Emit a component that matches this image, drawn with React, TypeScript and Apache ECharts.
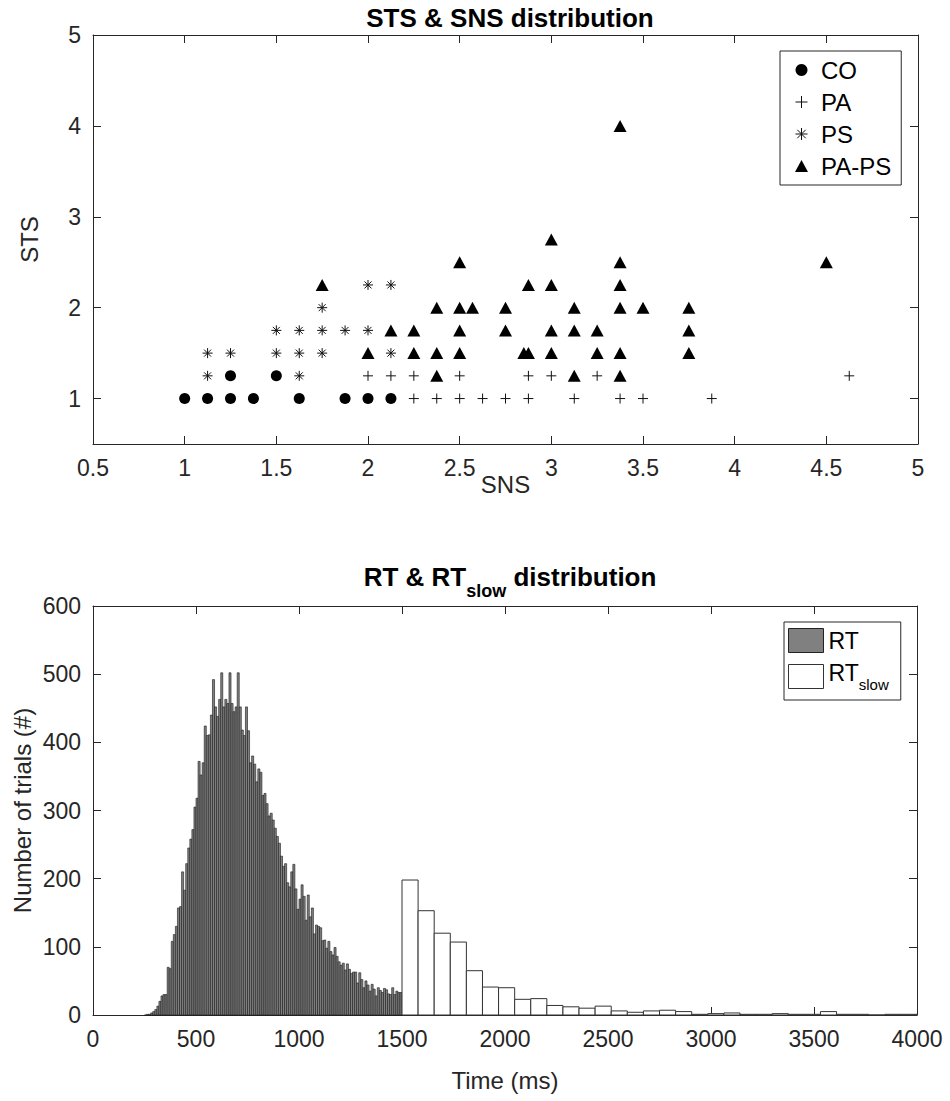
import React, { useEffect, useRef } from "react";
import * as echarts from "echarts";

const FONT = '"Liberation Sans", Arial, Helvetica, sans-serif';
const AXIS_COLOR = "#262626";

// ---------- Top panel: STS vs SNS scatter ----------
const snsRange = [0.5, 5];
const snsInterval = 0.5;
const stsRange = [0.5, 5];
const stsTicks = [1, 2, 3, 4, 5];

const coData = [
  [1, 1], [1.125, 1], [1.25, 1], [1.375, 1], [1.625, 1], [1.875, 1], [2, 1], [2.125, 1],
  [1.25, 1.25], [1.5, 1.25],
];
const paData = [
  [2.25, 1], [2.375, 1], [2.5, 1], [2.625, 1], [2.75, 1], [2.875, 1], [3.125, 1], [3.375, 1], [3.5, 1], [3.875, 1],
  [2, 1.25], [2.125, 1.25], [2.25, 1.25], [2.5, 1.25], [2.875, 1.25], [3, 1.25], [3.25, 1.25], [4.625, 1.25],
];
const psData = [
  [1.125, 1.25], [1.625, 1.25],
  [1.125, 1.5], [1.25, 1.5], [1.5, 1.5], [1.625, 1.5], [1.75, 1.5], [2.125, 1.5],
  [1.5, 1.75], [1.625, 1.75], [1.75, 1.75], [1.875, 1.75], [2, 1.75],
  [1.75, 2],
  [2, 2.25], [2.125, 2.25],
];
const papsData = [
  [2.375, 1.25], [3.125, 1.25], [3.375, 1.25],
  [2, 1.5], [2.25, 1.5], [2.375, 1.5], [2.5, 1.5], [2.85, 1.5], [2.875, 1.5], [3, 1.5], [3.25, 1.5], [3.375, 1.5], [3.75, 1.5],
  [2.125, 1.75], [2.25, 1.75], [2.5, 1.75], [2.75, 1.75], [3, 1.75], [3.125, 1.75], [3.25, 1.75], [3.75, 1.75],
  [2.375, 2], [2.5, 2], [2.57, 2], [2.75, 2], [3.125, 2], [3.375, 2], [3.5, 2], [3.75, 2],
  [1.75, 2.25], [2.875, 2.25], [3, 2.25], [3.375, 2.25],
  [2.5, 2.5], [3.375, 2.5], [4.5, 2.5],
  [3, 2.75],
  [3.375, 4],
];

// ---------- Bottom panel: RT histograms ----------
const timeRange = [0, 4000];
const timeInterval = 500;
const countRange = [0, 600];
const countInterval = 100;

const rtStart = 250;
const rtBinWidth = 10;
const rtCounts = [
  0, 1, 1, 3, 5, 8, 13, 20, 28, 30,
  30, 70, 68, 108, 118, 130, 157, 159, 210, 183,
  222, 245, 258, 272, 305, 318, 372, 352, 370, 424,
  410, 411, 440, 492, 452, 438, 463, 502, 452, 463,
  457, 502, 457, 445, 452, 502, 452, 418, 410, 452,
  417, 370, 380, 368, 342, 361, 356, 322, 325, 310,
  292, 296, 286, 274, 262, 252, 233, 218, 222, 194,
  188, 210, 221, 185, 155, 170, 191, 174, 139, 176,
  144, 157, 119, 132, 130, 128, 109, 110, 98, 108,
  93, 88, 99, 86, 78, 73, 76, 66, 75, 67,
  61, 63, 63, 47, 62, 52, 40, 50, 44, 35,
  45, 38, 28, 40, 36, 33, 39, 37, 31, 30,
  40, 30, 35, 33, 33,
];

const slowStart = 1500;
const slowBinWidth = 78.125;
const slowCounts = [
  198, 153, 120, 107, 65, 41, 40, 23, 24, 14, 12, 10, 13, 6, 4, 6,
  7, 5, 1, 2, 3, 1, 1, 2, 1, 1, 5, 1, 1, 0, 1, 1,
];

const PLUS_PATH = "path://M5,0L5,10M0,5L10,5";
const STAR_PATH = "path://M5,0L5,10M0,5L10,5M1.5,1.5L8.5,8.5M8.5,1.5L1.5,8.5";

function binsToItems(start: number, width: number, counts: number[]) {
  return counts.map((c, i) => [start + i * width, start + (i + 1) * width, c]);
}

function makeHistRender(fill: string, stroke: string, lineWidth: number) {
  return (_params: any, api: any) => {
    const p0 = api.coord([api.value(0), 0]);
    const p1 = api.coord([api.value(1), api.value(2)]);
    return {
      type: "rect",
      shape: { x: p0[0], y: p1[1], width: p1[0] - p0[0], height: p0[1] - p1[1] },
      style: { fill, stroke, lineWidth },
    };
  };
}

function axisCommon(showLabel: boolean) {
  return {
    axisLine: { show: true, onZero: false, lineStyle: { color: AXIS_COLOR, width: 1 } },
    axisTick: { show: true, inside: true, length: 8, lineStyle: { color: AXIS_COLOR, width: 1 } },
    splitLine: { show: false },
    axisLabel: {
      show: showLabel,
      color: AXIS_COLOR,
      fontSize: 23,
      fontFamily: FONT,
      margin: 12,
      formatter: (v: number) => String(v),
    },
    nameMoveOverlap: false,
    nameTextStyle: { color: AXIS_COLOR, fontSize: 24, fontFamily: FONT },
  };
}

export default function App() {
  const ref = useRef<HTMLDivElement>(null);

  useEffect(() => {
    if (!ref.current) return;
    const chart = echarts.init(ref.current, undefined, { renderer: "svg" });

    const xTop = (pos: string, showLabel: boolean, extra: any = {}) => ({
      type: "value",
      gridIndex: 0,
      position: pos,
      min: snsRange[0],
      max: snsRange[1],
      interval: snsInterval,
      ...axisCommon(showLabel),
      ...extra,
    });
    const yTop = (pos: string, showLabel: boolean, extra: any = {}) => {
      const c = axisCommon(showLabel);
      return {
        type: "value",
        gridIndex: 0,
        position: pos,
        min: stsRange[0],
        max: stsRange[1],
        ...c,
        axisTick: { ...c.axisTick, customValues: stsTicks },
        axisLabel: { ...c.axisLabel, customValues: stsTicks },
        ...extra,
      };
    };
    const xBot = (pos: string, showLabel: boolean, extra: any = {}) => ({
      type: "value",
      gridIndex: 1,
      position: pos,
      min: timeRange[0],
      max: timeRange[1],
      interval: timeInterval,
      ...axisCommon(showLabel),
      ...extra,
    });
    const yBot = (pos: string, showLabel: boolean, extra: any = {}) => ({
      type: "value",
      gridIndex: 1,
      position: pos,
      min: countRange[0],
      max: countRange[1],
      interval: countInterval,
      ...axisCommon(showLabel),
      ...extra,
    });

    const markerStroke = { color: "rgba(0,0,0,0)", borderColor: "#111", borderWidth: 1, opacity: 1 };
    const markerFill = { color: "#000", opacity: 1 };

    const option: any = {
      animation: false,
      backgroundColor: "#ffffff",
      textStyle: { fontFamily: FONT },
      title: [
        {
          text: "STS & SNS distribution",
          left: 505,
          top: 0,
          textAlign: "center",
          textStyle: { fontSize: 26, fontWeight: "bold", color: "#000", fontFamily: FONT },
        },
        {
          text: "{a|RT & RT}{b|slow}{a| distribution}",
          left: 505,
          top: 559,
          textAlign: "center",
          textStyle: {
            fontFamily: FONT,
            rich: {
              a: { fontSize: 26, fontWeight: "bold", color: "#000", fontFamily: FONT, verticalAlign: "top", padding: [0, 0, 10, 0] },
              b: { fontSize: 18, fontWeight: "bold", color: "#000", fontFamily: FONT, verticalAlign: "bottom" },
            },
          },
        },
      ],
      legend: [
        {
          orient: "vertical",
          left: 780,
          top: 51,
          padding: [7, 10, 7, 15],
          itemGap: 8,
          itemWidth: 13,
          itemHeight: 12,
          selectedMode: false,
          borderColor: AXIS_COLOR,
          borderWidth: 1,
          backgroundColor: "#fff",
          textStyle: { fontSize: 24, color: "#000", fontFamily: FONT, padding: [0, 0, 0, 8] },
          data: [
            { name: "CO", itemStyle: markerFill },
            { name: "PA", itemStyle: markerStroke },
            { name: "PS", itemStyle: markerStroke },
            { name: "PA-PS", itemStyle: markerFill },
          ],
        },
        {
          orient: "vertical",
          left: 784,
          top: 622,
          padding: [6, 12, 8, 4],
          itemGap: 8,
          itemWidth: 35,
          itemHeight: 24,
          selectedMode: false,
          borderColor: AXIS_COLOR,
          borderWidth: 1,
          backgroundColor: "#fff",
          formatter: (name: string) => (name === "RTslow" ? "{m|RT}{s|slow}" : name),
          textStyle: {
            fontSize: 23,
            color: "#000",
            fontFamily: FONT,
            rich: {
              m: { fontSize: 23, color: "#000", fontFamily: FONT, verticalAlign: "top", padding: [0, 0, 8, 0] },
              s: { fontSize: 15, color: "#000", fontFamily: FONT, verticalAlign: "bottom" },
            },
          },
          data: [
            { name: "RT", icon: "rect", itemStyle: { color: "#808080", borderColor: "#222", borderWidth: 1 } },
            { name: "RTslow", icon: "rect", itemStyle: { color: "#ffffff", borderColor: "#333", borderWidth: 1 } },
          ],
        },
      ],
      grid: [
        { left: 93, top: 35, width: 825, height: 409, outerBoundsMode: "none", containLabel: false },
        { left: 93, top: 606, width: 824, height: 409, outerBoundsMode: "none", containLabel: false },
      ],
      xAxis: [
        xTop("bottom", true, { name: "SNS", nameLocation: "middle", nameGap: 28 }),
        xTop("top", false),
        xBot("bottom", true, { name: "Time (ms)", nameLocation: "middle", nameGap: 53 }),
        xBot("top", false),
      ],
      yAxis: [
        yTop("left", true, { name: "STS", nameLocation: "middle", nameGap: 52 }),
        yTop("right", false),
        yBot("left", true, { name: "Number of trials (#)", nameLocation: "middle", nameGap: 59 }),
        yBot("right", false),
      ],
      series: [
        {
          name: "CO",
          type: "scatter",
          xAxisIndex: 0,
          yAxisIndex: 0,
          symbol: "circle",
          symbolSize: 11,
          symbolKeepAspect: true,
          itemStyle: markerFill,
          data: coData,
          silent: true,
        },
        {
          name: "PA",
          type: "scatter",
          xAxisIndex: 0,
          yAxisIndex: 0,
          symbol: PLUS_PATH,
          symbolSize: 10,
          symbolKeepAspect: true,
          itemStyle: markerStroke,
          data: paData,
          silent: true,
        },
        {
          name: "PS",
          type: "scatter",
          xAxisIndex: 0,
          yAxisIndex: 0,
          symbol: STAR_PATH,
          symbolSize: 10,
          symbolKeepAspect: true,
          itemStyle: markerStroke,
          data: psData,
          silent: true,
        },
        {
          name: "PA-PS",
          type: "scatter",
          xAxisIndex: 0,
          yAxisIndex: 0,
          symbol: "triangle",
          symbolSize: [13, 12],
          symbolKeepAspect: true,
          itemStyle: markerFill,
          data: papsData,
          silent: true,
        },
        {
          name: "RT",
          type: "custom",
          xAxisIndex: 2,
          yAxisIndex: 2,
          itemStyle: { color: "#808080" },
          encode: { x: [0, 1], y: 2 },
          renderItem: makeHistRender("#808080", "#1a1a1a", 0.6),
          data: binsToItems(rtStart, rtBinWidth, rtCounts),
          silent: true,
        },
        {
          name: "RTslow",
          type: "custom",
          xAxisIndex: 2,
          yAxisIndex: 2,
          itemStyle: { color: "#ffffff" },
          encode: { x: [0, 1], y: 2 },
          renderItem: makeHistRender("#ffffff", "#333", 1),
          data: binsToItems(slowStart, slowBinWidth, slowCounts),
          silent: true,
        },
      ],
    };

    chart.setOption(option);
    return () => chart.dispose();
  }, []);

  return (
    <div
      ref={ref}
      style={{ position: "absolute", left: 0, top: 0, width: 950, height: 1101, background: "#fff" }}
    />
  );
}
